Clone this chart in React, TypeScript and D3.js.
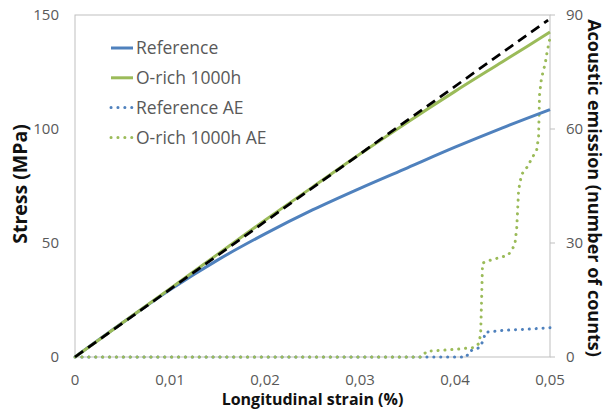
import React from "react";
import * as d3 from "d3";

// strain (%) vs stress (MPa)
const refStress: [number, number][] = [
  [0, 0], [0.005, 15], [0.01, 29.5], [0.015, 42.5], [0.02, 54], [0.025, 64.5],
  [0.03, 74], [0.035, 83], [0.04, 92], [0.045, 100.5], [0.05, 108.5],
];
const oRichStress: [number, number][] = [
  [0, 0], [0.005, 15], [0.01, 30], [0.015, 45], [0.02, 60], [0.025, 74.5],
  [0.03, 89], [0.035, 103], [0.04, 116.5], [0.045, 129.5], [0.05, 142.5],
];
const elasticFit: [number, number][] = [[0, 0], [0.0498, 147.8]];

// strain (%) vs AE counts
const refAE: [number, number][] = [
  [0, 0], [0.0412, 0], [0.0415, 1.5], [0.0426, 2.5], [0.043, 4.5], [0.0432, 6.5],
  [0.045, 7], [0.0475, 7.3], [0.05, 7.7],
];
const oRichAE: [number, number][] = [
  [0, 0], [0.0365, 0], [0.037, 1.5], [0.04, 2], [0.042, 2.5], [0.0425, 3.5],
  [0.0427, 6], [0.0428, 15], [0.0429, 24.7], [0.0435, 25.3], [0.0449, 26.3],
  [0.0456, 26.8], [0.0463, 29.5], [0.0465, 34], [0.0467, 44], [0.047, 48],
  [0.0476, 50], [0.0481, 52.3], [0.0486, 54.5], [0.0488, 58], [0.0489, 69],
  [0.0491, 73.3], [0.0495, 77.3], [0.0497, 80.3], [0.05, 84],
];

const xTicks = [0, 0.01, 0.02, 0.03, 0.04, 0.05];
const yTicks = [0, 50, 100, 150];
const y2Ticks = [0, 30, 60, 90];

const legendItems = [
  { label: "Reference", color: "#4F81BD", dotted: false },
  { label: "O-rich 1000h", color: "#9BBB59", dotted: false },
  { label: "Reference AE", color: "#4F81BD", dotted: true },
  { label: "O-rich 1000h AE", color: "#9BBB59", dotted: true },
];

const W = 609;
const H = 411;
const m = { left: 75, right: 550, top: 15, bottom: 357 };
const font = "'Open Sans', sans-serif";
const grey = "#595959";
const dotDash = "0.1 6.8";

export default function App() {
  const x = d3.scaleLinear().domain([0, 0.05]).range([m.left, m.right]);
  const y = d3.scaleLinear().domain([0, 150]).range([m.bottom, m.top]);
  const y2 = d3.scaleLinear().domain([0, 90]).range([m.bottom, m.top]);

  const line = d3.line<[number, number]>().x((d) => x(d[0])).y((d) => y(d[1])).curve(d3.curveMonotoneX);
  const line2 = d3.line<[number, number]>().x((d) => x(d[0])).y((d) => y2(d[1]));
  const fmt = (v: number) => (v === 0 ? "0" : d3.format(".2f")(v).replace(".", ","));

  return (
    <svg width={W} height={H} style={{ position: "absolute", left: 0, top: 0, background: "#fff" }}>
      <rect x={m.left} y={m.top} width={m.right - m.left} height={m.bottom - m.top}
        fill="none" stroke="#BFBFBF" strokeWidth={1} />
      {y2Ticks.map((t) => (
        <line key={t} x1={m.right} x2={m.right + 5} y1={y2(t)} y2={y2(t)} stroke="#BFBFBF" />
      ))}

      <path d={line2(refAE) ?? ""} fill="none" stroke="#4F81BD" strokeWidth={3}
        strokeDasharray={dotDash} strokeLinecap="round" />
      <path d={line2(oRichAE) ?? ""} fill="none" stroke="#9BBB59" strokeWidth={3}
        strokeDasharray={dotDash} strokeLinecap="round" />
      <path d={line(refStress) ?? ""} fill="none" stroke="#4F81BD" strokeWidth={3} />
      <path d={line(oRichStress) ?? ""} fill="none" stroke="#9BBB59" strokeWidth={3} />
      <path d={line(elasticFit) ?? ""} fill="none" stroke="#000" strokeWidth={2.75}
        strokeDasharray="10 6" />

      {yTicks.map((t) => (
        <text key={t} x={m.left - 16} y={y(t)} dy="0.35em" textAnchor="end"
          fontFamily={font} fontSize={15} fill={grey}>{t}</text>
      ))}
      {y2Ticks.map((t) => (
        <text key={t} x={m.right + 16} y={y2(t)} dy="0.35em" textAnchor="start"
          fontFamily={font} fontSize={15} fill={grey}>{t}</text>
      ))}
      {xTicks.map((t) => (
        <text key={t} x={x(t)} y={385} textAnchor="middle"
          fontFamily={font} fontSize={15} fill={grey}>{fmt(t)}</text>
      ))}

      <text x={(m.left + m.right) / 2} y={405} textAnchor="middle" fontFamily={font}
        fontSize={16} fontWeight="bold" fill="#111">Longitudinal strain (%)</text>
      <text transform={`translate(27,${184}) rotate(-90)`} textAnchor="middle"
        fontFamily={font} fontSize={19.5} fontWeight="bold" fill="#111">Stress (MPa)</text>
      <text transform={`translate(588,${188}) rotate(90)`} textAnchor="middle"
        fontFamily={font} fontSize={18} fontWeight="bold" fill="#111">Acoustic emission (number of counts)</text>

      {legendItems.map((d, i) => {
        const ly = 48 + i * 29.8;
        return (
          <g key={d.label}>
            <line x1={111} x2={133} y1={ly} y2={ly} stroke={d.color} strokeWidth={3}
              strokeDasharray={d.dotted ? dotDash : undefined}
              strokeLinecap={d.dotted ? "round" : "butt"} />
            <text x={136} y={ly} dy="0.35em" fontFamily={font} fontSize={17.5} fill={grey}>{d.label}</text>
          </g>
        );
      })}
    </svg>
  );
}
